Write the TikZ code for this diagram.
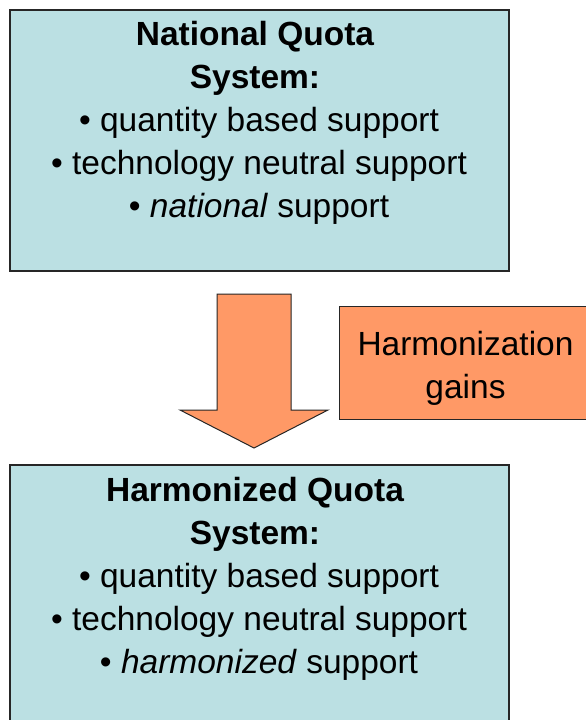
\documentclass[tikz,border=0pt]{standalone}
\usepackage{fontspec}
\setmainfont{Liberation Sans}
\definecolor{boxblue}{HTML}{BBE0E3}
\definecolor{gainorange}{HTML}{FF9966}
\tikzset{
  panel/.style={draw=black!85, line width=1.2pt, fill=boxblue},
  gainbox/.style={draw=black!85, line width=1pt, fill=gainorange},
  blockarrow/.style={draw=black!85, line width=1pt, fill=gainorange, line join=miter},
  line/.style={anchor=base, inner sep=0pt, font=\fontsize{33.5}{43}\selectfont},
  title/.style={line, font=\fontsize{33.5}{43}\selectfont\bfseries},
}
\begin{document}
\begin{tikzpicture}[x=1pt, y=-1pt]
\useasboundingbox (0,0) rectangle (586,720);

% upper panel: national quota system
\draw[panel] (10,10) rectangle (509,271);
\node[title] (t1) at (255,45)  {National Quota};
\node[title] (t2) at (255,88)  {System:};
\node[line]  (a1) at (259,131) {• quantity based support};
\node[line]  (a2) at (259,174) {• technology neutral support};
\node[line]  (a3) at (259,217) {• \textit{national} support};

% block arrow between the panels
\draw[blockarrow] (217,294) -- (291,294) -- (291,410) -- (328,410)
  -- (254,448) -- (180,410) -- (217,410) -- cycle;

% side label
\draw[gainbox] (339,306) rectangle (592,419);
\node[line] (g1) at (465.5,355) {Harmonization};
\node[line] (g2) at (465.5,398) {gains};

% lower panel: harmonized quota system
\draw[panel] (10,465) rectangle (509,740);
\node[title] (t3) at (255,501) {Harmonized Quota};
\node[title] (t4) at (255,544) {System:};
\node[line]  (b1) at (259,587) {• quantity based support};
\node[line]  (b2) at (259,630) {• technology neutral support};
\node[line]  (b3) at (259,673) {• \textit{harmonized} support};
\end{tikzpicture}
\end{document}
